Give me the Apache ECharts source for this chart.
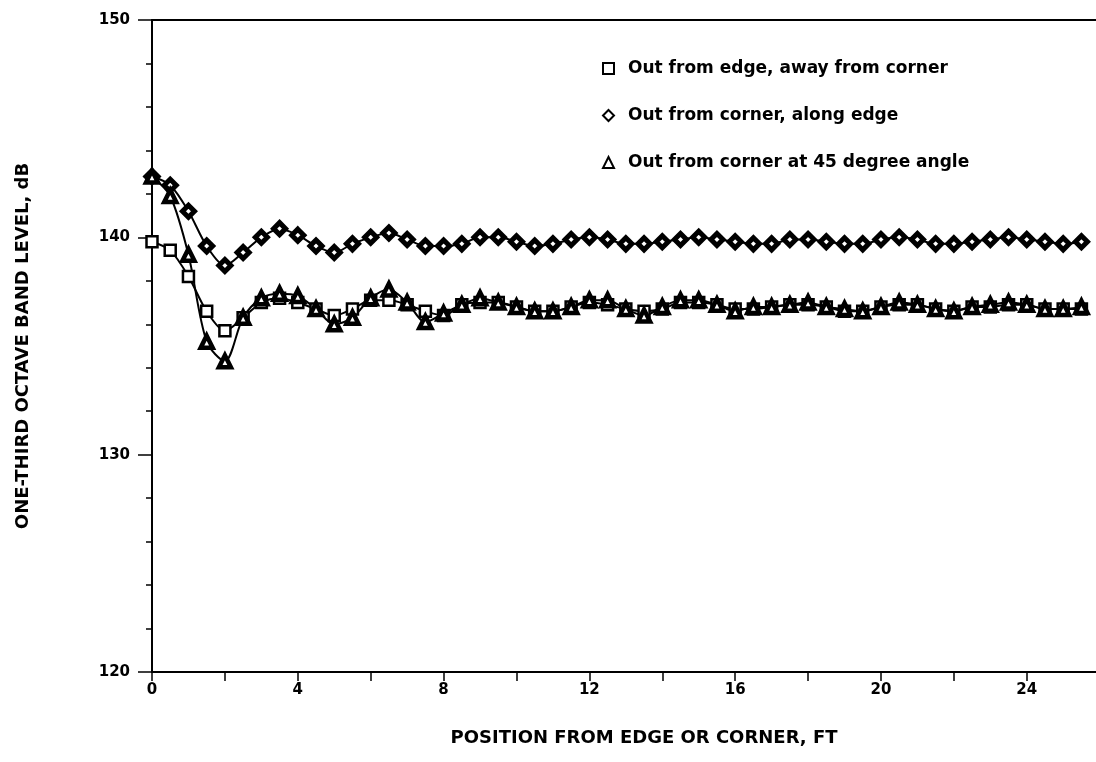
<!DOCTYPE html>
<html>
<head>
<meta charset="utf-8">
<script src="https://cdn.jsdelivr.net/npm/echarts@6/dist/echarts.min.js"></script>
<style>
html, body { margin: 0; padding: 0; background: #fff; }
#main { width: 1096px; height: 762px; }
</style>
</head>
<body>
<div id="main"></div>
<script>
// position from edge or corner, ft
var position = [0, 0.5, 1, 1.5, 2, 2.5, 3, 3.5, 4, 4.5, 5, 5.5, 6, 6.5, 7, 7.5, 8, 8.5, 9, 9.5,
  10, 10.5, 11, 11.5, 12, 12.5, 13, 13.5, 14, 14.5, 15, 15.5, 16, 16.5, 17, 17.5, 18, 18.5, 19, 19.5,
  20, 20.5, 21, 21.5, 22, 22.5, 23, 23.5, 24, 24.5, 25, 25.5];

// out from edge, away from corner (squares)
var edgeLevel = [139.8, 139.4, 138.2, 136.6, 135.7, 136.3, 137.0, 137.2, 137.0, 136.7, 136.4, 136.7, 137.1, 137.1, 136.9, 136.6, 136.4, 136.9, 137.0, 137.0,
  136.8, 136.6, 136.6, 136.8, 137.0, 136.9, 136.7, 136.6, 136.7, 137.0, 137.0, 136.9, 136.7, 136.7, 136.8, 136.9, 136.9, 136.8, 136.6, 136.6,
  136.8, 136.9, 136.9, 136.7, 136.6, 136.8, 136.8, 136.9, 136.9, 136.7, 136.7, 136.7];

// out from corner, along edge (diamonds)
var cornerEdgeLevel = [142.8, 142.4, 141.2, 139.6, 138.7, 139.3, 140.0, 140.4, 140.1, 139.6, 139.3, 139.7, 140.0, 140.2, 139.9, 139.6, 139.6, 139.7, 140.0, 140.0,
  139.8, 139.6, 139.7, 139.9, 140.0, 139.9, 139.7, 139.7, 139.8, 139.9, 140.0, 139.9, 139.8, 139.7, 139.7, 139.9, 139.9, 139.8, 139.7, 139.7,
  139.9, 140.0, 139.9, 139.7, 139.7, 139.8, 139.9, 140.0, 139.9, 139.8, 139.7, 139.8];

// out from corner at 45 degree angle (triangles)
var cornerAngleLevel = [142.8, 141.9, 139.2, 135.2, 134.3, 136.3, 137.2, 137.4, 137.3, 136.7, 136.0, 136.3, 137.2, 137.6, 137.0, 136.1, 136.5, 136.9, 137.2, 137.0,
  136.8, 136.6, 136.6, 136.8, 137.1, 137.1, 136.7, 136.4, 136.8, 137.1, 137.1, 136.9, 136.6, 136.8, 136.8, 136.9, 137.0, 136.8, 136.7, 136.6,
  136.8, 137.0, 136.9, 136.7, 136.6, 136.8, 136.9, 137.0, 136.9, 136.7, 136.7, 136.8];

var seriesNames = ['Out from edge, away from corner', 'Out from corner, along edge', 'Out from corner at 45 degree angle'];

function pairs(ys) {
  var out = [];
  for (var i = 0; i < position.length; i++) out.push([position[i], ys[i]]);
  return out;
}

var labelFont = { color: '#000', fontFamily: 'DejaVu Sans', fontWeight: 'bold', fontSize: 15 };
var tickLine = { color: '#000', width: 1.5 };

var chart = echarts.init(document.getElementById('main'));
var option = {
  animation: false,
  backgroundColor: '#fff',
  grid: { left: 152, top: 20, right: 0, bottom: 90 },
  legend: {
    orient: 'vertical',
    left: 597, top: 55,
    itemWidth: 11, itemHeight: 11,
    itemGap: 30,
    textStyle: { color: '#000', fontFamily: 'DejaVu Sans', fontWeight: 'bold', fontSize: 17, lineHeight: 17, padding: [0, 0, 0, 9] },
    itemStyle: { color: '#fff', borderColor: '#000', borderWidth: 2 },
    data: [
      { name: seriesNames[0], icon: 'rect' },
      { name: seriesNames[1], icon: 'diamond' },
      { name: seriesNames[2], icon: 'triangle' }
    ]
  },
  xAxis: [{
    type: 'value',
    min: 0, max: 25.9, interval: 2,
    name: 'POSITION FROM EDGE OR CORNER, FT',
    nameLocation: 'middle',
    nameGap: 57,
    nameTextStyle: { color: '#000', fontFamily: 'DejaVu Sans', fontWeight: 'bold', fontSize: 18, padding: [0, 0, 0, 40] },
    axisLine: { lineStyle: { color: '#000', width: 2 } },
    axisTick: { length: 9, lineStyle: tickLine },
    axisLabel: Object.assign({
      margin: 11,
      showMaxLabel: false,
      formatter: function (v) { return v % 4 === 0 ? String(v) : ''; }
    }, labelFont),
    splitLine: { show: false }
  }, {
    // top frame line
    type: 'value',
    position: 'top',
    min: 0, max: 25.9,
    axisLine: { show: true, lineStyle: { color: '#000', width: 2 } },
    axisTick: { show: false },
    axisLabel: { show: false },
    splitLine: { show: false }
  }],
  yAxis: {
    type: 'value',
    min: 120, max: 150, interval: 10,
    name: 'ONE-THIRD OCTAVE BAND LEVEL, dB',
    nameLocation: 'middle',
    nameGap: 120,
    nameTextStyle: { color: '#000', fontFamily: 'DejaVu Sans', fontWeight: 'bold', fontSize: 18 },
    axisLine: { lineStyle: { color: '#000', width: 2 } },
    axisTick: { length: 14, lineStyle: tickLine },
    minorTick: { show: true, splitNumber: 5, length: 6, lineStyle: tickLine },
    axisLabel: Object.assign({ margin: 22 }, labelFont),
    splitLine: { show: false }
  },
  series: [
    {
      name: seriesNames[0],
      type: 'line',
      data: pairs(edgeLevel),
      smooth: 0.3,
      symbol: 'rect',
      symbolSize: 11,
      z: 3,
      lineStyle: { color: '#000', width: 2 },
      itemStyle: { color: '#fff', borderColor: '#000', borderWidth: 2.5 }
    },
    {
      name: seriesNames[1],
      type: 'line',
      data: pairs(cornerEdgeLevel),
      smooth: 0.3,
      symbol: 'diamond',
      symbolSize: 12,
      lineStyle: { color: '#000', width: 2 },
      itemStyle: { color: '#fff', borderColor: '#000', borderWidth: 5 }
    },
    {
      name: seriesNames[2],
      type: 'line',
      data: pairs(cornerAngleLevel),
      smooth: 0.3,
      symbol: 'triangle',
      symbolSize: 12,
      lineStyle: { color: '#000', width: 2 },
      itemStyle: { color: '#fff', borderColor: '#000', borderWidth: 4.5 }
    }
  ]
};
chart.setOption(option);
</script>
</body>
</html>
